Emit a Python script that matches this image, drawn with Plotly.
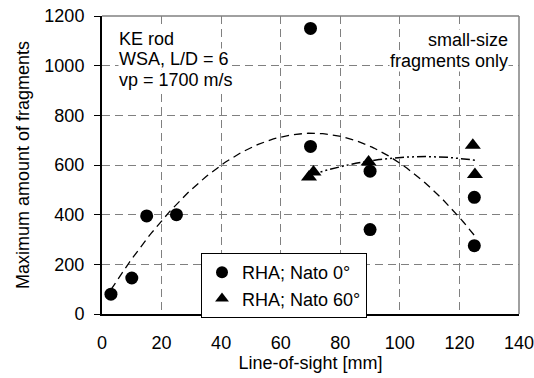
import numpy as np
import plotly.graph_objects as go

# Data
circ_x = [3, 10, 15, 25, 70, 70, 90, 90, 125, 125]
circ_y = [80, 145, 395, 400, 1150, 675, 575, 340, 470, 275]
tri_x = [69.5, 71, 89.5, 124.5, 125.2]
tri_y = [552, 572, 612, 680, 562]

x_ticks = [0, 20, 40, 60, 80, 100, 120, 140]
y_ticks = [0, 200, 400, 600, 800, 1000, 1200]

left_text = ["KE rod", "WSA, L/D = 6", "vp = 1700 m/s"]
right_text = ["small-size", "fragments only"]

FONT = "Liberation Sans, Arial, sans-serif"
FS = 18

fig = go.Figure()

# quadratic trend lines fitted to the data
cc = np.polyfit(circ_x, circ_y, 2)
cx = np.linspace(min(circ_x), max(circ_x), 200)
fig.add_trace(go.Scatter(x=cx, y=np.polyval(cc, cx), mode="lines",
                         line=dict(color="black", width=1.3, dash="8px,5px"),
                         showlegend=False, hoverinfo="skip"))
tc = np.polyfit(tri_x, tri_y, 2)
tx = np.linspace(min(tri_x), max(tri_x), 200)
fig.add_trace(go.Scatter(x=tx, y=np.polyval(tc, tx), mode="lines",
                         line=dict(color="black", width=1.5, dash="9px,3px,2px,3px,2px,3px"),
                         showlegend=False, hoverinfo="skip"))

fig.add_trace(go.Scatter(x=circ_x, y=circ_y, mode="markers", name="RHA; Nato 0°",
                         marker=dict(symbol="circle", size=13, color="black")))
fig.add_trace(go.Scatter(x=tri_x, y=tri_y, mode="markers", name="RHA; Nato 60°",
                         marker=dict(symbol="triangle-up", size=14, color="black")))

# plot area in pixels: left 102, right 519, top 16, bottom 314
def py(p):
    return (314 - p) / 298.0

def px(p):
    return (p - 102) / 417.0

annots = []
for i, t in enumerate(left_text):
    annots.append(dict(xref="paper", yref="paper", x=px(118), y=py(39.5 + 20 * i),
                       xanchor="left", yanchor="middle", text=t, showarrow=False,
                       bgcolor="white", borderpad=0, font=dict(size=FS)))
for i, t in enumerate(right_text):
    annots.append(dict(xref="paper", yref="paper", x=px(509), y=py(40 + 21 * i),
                       xanchor="right", yanchor="middle", text=t, showarrow=False,
                       bgcolor="white", borderpad=0, font=dict(size=FS)))

fig.update_layout(
    width=534, height=378,
    margin=dict(l=102, r=15, t=16, b=64, autoexpand=False),
    paper_bgcolor="white", plot_bgcolor="white",
    font=dict(family=FONT, size=FS, color="black"),
    showlegend=True,
    legend=dict(x=px(201), y=py(253), xanchor="left", yanchor="top",
                bgcolor="white", bordercolor="black", borderwidth=1,
                font=dict(size=FS), itemsizing="constant", itemwidth=30,
                tracegroupgap=0),
    shapes=[
        dict(type="line", xref="paper", yref="paper", x0=0, x1=1, y0=1, y1=1,
             line=dict(color="#808080", width=1.5)),
        dict(type="line", xref="paper", yref="paper", x0=1, x1=1, y0=0, y1=1,
             line=dict(color="#808080", width=1.5)),
    ],
    annotations=annots,
)

fig.update_xaxes(range=[0, 140], tickvals=x_ticks, ticktext=[str(v) for v in x_ticks],
                 automargin=False,
                 showgrid=True, gridcolor="#808080", griddash="8px,5px", gridwidth=1,
                 showline=True, linecolor="black", linewidth=1.5,
                 ticks="", ticklabelstandoff=12, ticklabeloverflow="allow",
                 zeroline=False,
                 title=dict(text="Line-of-sight [mm]", standoff=2, font=dict(size=FS)),
                 tickfont=dict(size=FS))
fig.update_yaxes(range=[0, 1200], tickvals=y_ticks, ticktext=[str(v) for v in y_ticks],
                 automargin=False,
                 showgrid=True, gridcolor="#808080", griddash="8px,5px", gridwidth=1,
                 showline=True, linecolor="black", linewidth=2,
                 ticks="outside", ticklen=6, tickcolor="black", ticklabelstandoff=6,
                 ticklabeloverflow="allow",
                 zeroline=False,
                 title=dict(text="Maximum amount of fragments", standoff=10, font=dict(size=FS)),
                 tickfont=dict(size=FS))

fig.write_html("out.html")
